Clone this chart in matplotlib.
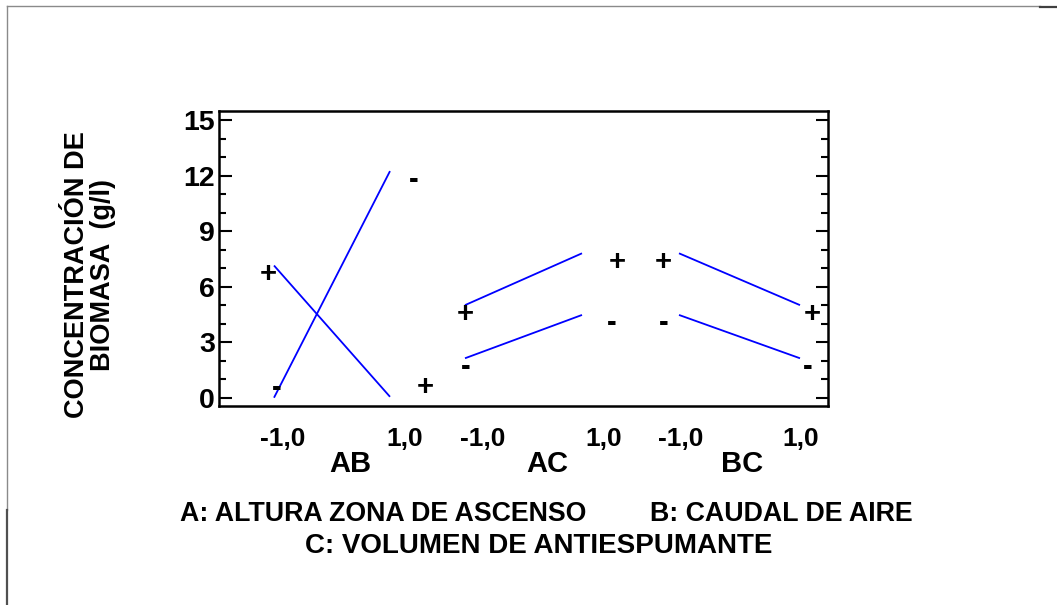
import matplotlib
matplotlib.use('Agg')
import matplotlib.pyplot as plt
from matplotlib.lines import Line2D
from matplotlib.ticker import MultipleLocator, FixedLocator
import matplotlib.transforms as mtransforms

# ---------------- data ----------------
interactions = ['AB', 'AC', 'BC']
levels = [-1.0, 1.0]
level_labels = ['-1,0', '1,0']
# response at (-1, +1) of first factor, second factor at '+' level
plus_low = [7.14, 5.00, 7.80]
plus_high = [0.05, 7.80, 5.00]
# response at (-1, +1) of first factor, second factor at '-' level
minus_low = [0.00, 2.13, 4.47]
minus_high = [12.24, 4.47, 2.13]
y_ticks = [0, 3, 6, 9, 12, 15]
y_label = "CONCENTRACIÓN DE\nBIOMASA  (g/l)"
factor_text_a = "A: ALTURA ZONA DE ASCENSO"
factor_text_b = "B: CAUDAL DE AIRE"
factor_text_c = "C: VOLUMEN DE ANTIESPUMANTE"

# ---------------- layout ----------------
W, H = 1057, 605
FONT = ['Liberation Sans', 'DejaVu Sans']
plt.rcParams['font.family'] = FONT
plt.rcParams['font.weight'] = 'bold'

fig = plt.figure(figsize=(W / 100, H / 100), dpi=100)
ax_l, ax_r, ax_t, ax_b = 219, 828, 111, 406
ax = fig.add_axes([ax_l / W, (H - ax_b) / H, (ax_r - ax_l) / W, (ax_b - ax_t) / H])
ax.set_xlim(ax_l, ax_r)
ax.set_ylim(-0.448, 15.486)

panel_center = [332, 523.5, 739.5]
panel_half = [58, 58.5, 60.5]
tick_label_x = [[283, 405], [483, 604], [681, 801]]
panel_label_x = [350, 547, 742]
sign_label_x = {'+': [[268, 425], [465, 617], [663, 812]],
                '-': [[277, 414], [466, 612], [664, 808]]}

blue = '#0000FF'
for i, name in enumerate(interactions):
    xs = [panel_center[i] + lv * panel_half[i] for lv in levels]
    for sign, lo, hi in (('+', plus_low[i], plus_high[i]), ('-', minus_low[i], minus_high[i])):
        ax.plot(xs, [lo, hi], color=blue, lw=1.3, solid_capstyle='butt')
        for j, val in enumerate((lo, hi)):
            dy = 10 if val < 0.5 else -8.5
            ax.annotate(sign, xy=(sign_label_x[sign][i][j], val), xytext=(0, dy),
                        textcoords='offset pixels', ha='center', va='center',
                        fontsize=21, fontweight='bold', color='black',
                        annotation_clip=False)

# axis styling
for side in ('left', 'right', 'top', 'bottom'):
    ax.spines[side].set_linewidth(1.8)
ax.set_xticks([])
ax.yaxis.set_major_locator(FixedLocator(y_ticks))
ax.yaxis.set_minor_locator(MultipleLocator(1))
ax.tick_params(axis='y', which='both', direction='in', left=True, right=True,
               width=1.5, labelsize=20.5, pad=3)
ax.tick_params(axis='y', which='major', length=9)
ax.tick_params(axis='y', which='minor', length=5)
for lab in ax.get_yticklabels():
    lab.set_fontweight('bold')

trans = mtransforms.blended_transform_factory(ax.transData, fig.transFigure)
for i, name in enumerate(interactions):
    for j, lab in enumerate(level_labels):
        ax.text(tick_label_x[i][j], (H - 446) / H, lab, transform=trans,
                ha='center', va='baseline', fontsize=19, fontweight='bold',
                clip_on=False)
    ax.text(panel_label_x[i], (H - 472) / H, name, transform=trans,
            ha='center', va='baseline', fontsize=21, fontweight='bold',
            clip_on=False)

fig.text(90 / W, (H - 275) / H, y_label, rotation=90, ha='center', va='center',
         multialignment='center', linespacing=1.0, fontsize=19.5, fontweight='bold')

fig.text(180 / W, (H - 521) / H, factor_text_a, ha='left', va='baseline',
         fontsize=19.3, fontweight='bold')
fig.text(913 / W, (H - 521) / H, factor_text_b, ha='right', va='baseline',
         fontsize=19.3, fontweight='bold')
fig.text(538.5 / W, (H - 553) / H, factor_text_c, ha='center', va='baseline',
         fontsize=20, fontweight='bold')

# window border remnants
fig.add_artist(Line2D([7 / W, 1040 / W], [(H - 6) / H] * 2, color='#8a8a8a', lw=1))
fig.add_artist(Line2D([1040 / W, 1.0], [(H - 6.5) / H] * 2, color='#404040', lw=1.6))
fig.add_artist(Line2D([7 / W] * 2, [(H - 6) / H, (H - 510) / H], color='#8a8a8a', lw=1))
fig.add_artist(Line2D([7 / W] * 2, [(H - 510) / H, 0], color='#505050', lw=1.6))

fig.savefig('out.png', dpi=100)
